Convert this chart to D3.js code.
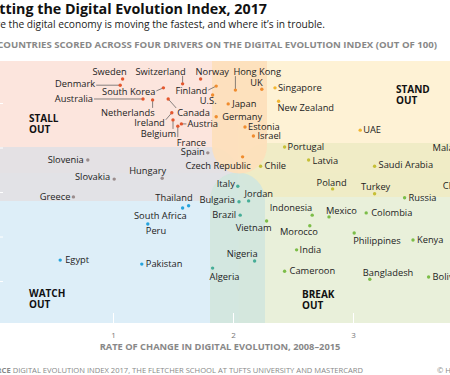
<!DOCTYPE html>
<html>
<head>
<meta charset="utf-8">
<script src="https://cdn.jsdelivr.net/npm/d3@7"></script>
<style>
  body { margin: 0; background: #fff; overflow: hidden; }
  text { font-family: "Open Sans", "Noto Sans", sans-serif; }
</style>
</head>
<body>
<div id="chart-area"></div>
<script>
// Each zone: [country, rate of change 2008-2015, DEI score]
var stallOut = [
  ["Sweden", 1.08, 65.4], ["Switzerland", 1.58, 64.3], ["Norway", 1.73, 65.4],
  ["Denmark", 1.06, 64.0], ["South Korea", 1.42, 63.4], ["Australia", 1.25, 60.9],
  ["Netherlands", 1.33, 60.7], ["Canada", 1.46, 60.9], ["Ireland", 1.49, 57.8],
  ["Belgium", 1.50, 56.2], ["Austria", 1.57, 55.3], ["France", 1.54, 54.8]
];
var stallStand = [
  ["Finland", 1.86, 63.8], ["U.S.", 1.83, 61.8], ["Hong Kong", 2.02, 62.9],
  ["UK", 2.24, 63.1], ["Japan", 1.96, 59.8], ["Germany", 1.86, 56.9],
  ["Estonia", 2.10, 54.6], ["Israel", 2.17, 52.6], ["Czech Republic", 2.08, 47.9]
];
var standOut = [
  ["Singapore", 2.35, 63.4], ["New Zealand", 2.38, 60.4], ["UAE", 3.06, 53.9],
  ["Malaysia", 4.01, 49.4]
];
var standBreak = [
  ["Portugal", 2.43, 50.1], ["Chile", 2.23, 45.8], ["Latvia", 2.63, 47.2],
  ["Saudi Arabia", 3.18, 45.8], ["Poland", 2.83, 40.7], ["Turkey", 3.18, 39.6],
  ["China", 3.98, 40.4]
];
var stallWatch = [
  ["Spain", 1.79, 48.8], ["Slovenia", 0.79, 47.2], ["Slovakia", 1.01, 42.9],
  ["Hungary", 1.41, 43.1], ["Greece", 0.67, 38.9]
];
var watchBreak = [
  ["Italy", 2.04, 41.3], ["Jordan", 2.13, 38.0], ["Bulgaria", 2.05, 37.8],
  ["Brazil", 2.06, 34.8], ["Nigeria", 2.18, 24.5], ["Algeria", 1.83, 22.9]
];
var watchOut = [
  ["Thailand", 1.63, 36.9], ["South Africa", 1.58, 36.4], ["Peru", 1.29, 32.8],
  ["Egypt", 0.56, 24.7], ["Pakistan", 1.24, 23.8]
];
var breakOut = [
  ["Russia", 3.43, 38.7], ["Indonesia", 2.66, 34.8], ["Mexico", 2.80, 34.4],
  ["Colombia", 3.11, 35.3], ["Vietnam", 2.28, 33.5], ["Morocco", 2.64, 32.4],
  ["Philippines", 3.01, 30.8], ["Kenya", 3.50, 29.2], ["India", 2.53, 27.0],
  ["Cameroon", 2.43, 22.2], ["Bangladesh", 3.14, 20.4], ["Bolivia", 3.63, 20.9]
];
var xTicks = [0, 1, 2, 3];
var yTicks = [20, 30, 40, 50, 60];

var groups = [
  {data: stallOut, dot: "#e4572e"},
  {data: stallStand, dot: "#f08c2e"},
  {data: standOut, dot: "#f2b630"},
  {data: standBreak, dot: "#c6bf36"},
  {data: stallWatch, dot: "#9a8c8c"},
  {data: watchBreak, dot: "#46ad97"},
  {data: watchOut, dot: "#25a3dc"},
  {data: breakOut, dot: "#7cbd48"}
];

// label placement: anchor, dx, dy from the dot
var labelPos = {
  "Sweden": ["end", 4, -7], "Switzerland": ["middle", -22, -12], "Norway": ["start", -5, -7],
  "Denmark": ["end", -25, -1], "South Korea": ["end", -8, 4], "Australia": ["end", -50, 0],
  "Netherlands": ["end", 2, 13], "Canada": ["start", 9, 14], "Ireland": ["end", -7, 10],
  "Belgium": ["end", 3, 14], "Austria": ["start", 6, 0], "France": ["start", -1, 17],
  "Finland": ["end", -9, 5], "U.S.": ["end", 4, 6], "Hong Kong": ["start", -2, -18],
  "UK": ["end", 1, -6], "Japan": ["start", 4, 0], "Germany": ["start", 6, 0],
  "Estonia": ["start", 3, 0], "Israel": ["start", 4, 0], "Czech Republic": ["end", 8, 9],
  "Singapore": ["start", 3, 0], "New Zealand": ["start", -1, 7], "UAE": ["start", 3, 0],
  "Malaysia": ["end", -4, -2],
  "Portugal": ["start", 3, 0], "Chile": ["start", 4, 0], "Latvia": ["start", 4, 1],
  "Saudi Arabia": ["start", 4, -1], "Poland": ["middle", -1, -6], "Turkey": ["middle", 1, -7],
  "China": ["end", -3, -4],
  "Spain": ["end", -3, -1], "Slovenia": ["end", -4, 0], "Slovakia": ["end", -4, -2],
  "Hungary": ["end", 4, -7], "Greece": ["end", -3, 0],
  "Italy": ["end", -3, -2], "Jordan": ["start", -4, -7], "Bulgaria": ["end", -4, -2],
  "Brazil": ["end", -4, 0], "Nigeria": ["end", 3, -7], "Algeria": ["start", -3, 9],
  "Thailand": ["end", 4, -8], "South Africa": ["end", 4, 8], "Peru": ["start", -2, 7],
  "Egypt": ["start", 5, 0], "Pakistan": ["start", 4, 0],
  "Russia": ["start", 4, 0], "Indonesia": ["end", 0, -7], "Mexico": ["start", -3, -6],
  "Colombia": ["start", 5, 0], "Vietnam": ["end", 5, 7], "Morocco": ["end", 8, 6],
  "Philippines": ["start", -1, 8], "Kenya": ["start", 4, 0], "India": ["start", 3, 0],
  "Cameroon": ["start", 5, 0], "Bangladesh": ["start", -7, -6], "Bolivia": ["start", 4, 0]
};
// leader line end, relative to the dot
var leaders = {
  "Denmark": [-24, 0], "Australia": [-49, 0], "South Korea": [-7, 3], "Finland": [-8, 4],
  "Netherlands": [0, 8], "Canada": [8, 9], "Ireland": [-6, 7], "Belgium": [0, 9],
  "France": [0, 11], "Austria": [5, 0], "Switzerland": [0, -8], "Hong Kong": [0, -14]
};

var W = 450, H = 375;
var top_ = 61, bottom = 323;

var svg = d3.select("#chart-area")
  .append("svg")
    .attr("width", W)
    .attr("height", H);

// Scales
var x = d3.scaleLinear()
  .domain([0, 3])
  .range([-7, 353]);

var y = d3.scaleLinear()
  .domain([20, 60])
  .range([281, 103]);

// Background zones
var cx = 238.5, cy = 173;
var bg = svg.append("g");
bg.append("rect").attr("x", -20).attr("y", top_).attr("width", cx + 20).attr("height", cy - top_).attr("fill", "#fce5dd");
bg.append("rect").attr("x", cx).attr("y", top_).attr("width", 480 - cx).attr("height", cy - top_).attr("fill", "#fef2d5");
bg.append("rect").attr("x", -20).attr("y", cy).attr("width", cx + 20).attr("height", bottom - cy).attr("fill", "#ddeef8");
bg.append("rect").attr("x", cx).attr("y", cy).attr("width", 480 - cx).attr("height", bottom - cy).attr("fill", "#e9f0da");

function pill(x0, y0, x1, y1, capSide) {
  // rectangle with a round cap on one side
  var p = d3.path();
  if (capSide == "bottom") {
    var r = (x1 - x0) / 2;
    p.moveTo(x0, y0); p.lineTo(x1, y0); p.lineTo(x1, y1);
    p.arc(x0 + r, y1, r, 0, Math.PI, false);
    p.closePath();
  } else if (capSide == "top") {
    var r = (x1 - x0) / 2;
    p.moveTo(x0, y1); p.lineTo(x0, y0);
    p.arc(x0 + r, y0, r, Math.PI, 2 * Math.PI, false);
    p.lineTo(x1, y1); p.closePath();
  } else if (capSide == "right") {
    var r = (y1 - y0) / 2;
    p.moveTo(x0, y0); p.lineTo(x1, y0);
    p.arc(x1, y0 + r, r, -Math.PI / 2, Math.PI / 2, false);
    p.lineTo(x0, y1); p.closePath();
  } else {
    var r = (y1 - y0) / 2;
    p.moveTo(x1, y0); p.lineTo(x0, y0);
    p.arc(x0, y0 + r, r, -Math.PI / 2, Math.PI / 2, true);
    p.lineTo(x1, y1); p.closePath();
  }
  return p.toString();
}

bg.append("path").attr("d", pill(-20, 147, 211, 201, "right")).attr("fill", "#e2e1e4").attr("opacity", 0.92);
bg.append("path").attr("d", pill(267, 143, 480, 197, "left")).attr("fill", "#efecc4").attr("opacity", 0.92);
bg.append("path").attr("d", pill(210, 200, 265, bottom, "top")).attr("fill", "#d1e6dd").attr("opacity", 0.92);
bg.append("path").attr("d", pill(212, top_, 267, 146, "bottom")).attr("fill", "#fde0bb").attr("opacity", 0.92);

// Axes
var xAxis = d3.axisBottom(x)
  .tickValues(xTicks)
  .tickSize(-10)
  .tickPadding(9)
  .tickFormat(d => d);
var gx = svg.append("g")
  .attr("transform", "translate(0," + bottom + ")")
  .call(xAxis);
gx.select(".domain").remove();
gx.selectAll("line").attr("stroke", "#fff").attr("stroke-width", 1);
gx.selectAll("text").attr("fill", "#777").attr("font-size", "8px")
  .style("font-family", "'Open Sans', sans-serif");

var yAxis = d3.axisLeft(y)
  .tickValues(yTicks)
  .tickSize(3)
  .tickPadding(14);
var gy = svg.append("g")
  .attr("transform", "translate(3,0)")
  .call(yAxis);
gy.select(".domain").remove();
gy.selectAll("line").attr("stroke", "#fff").attr("stroke-width", 1);
gy.selectAll("text").attr("fill", "#777").attr("font-size", "8px");

// Zone names
var zones = [
  ["STALL", "OUT", 29, 118], ["STAND", "OUT", 396, 89],
  ["WATCH", "OUT", 29, 293], ["BREAK", "OUT", 302, 294]
];
zones.forEach(z => {
  var t = svg.append("text")
    .attr("font-size", "10px").attr("font-weight", "bold").attr("fill", "#111");
  t.append("tspan").attr("x", z[2]).attr("y", z[3] + 3.5).text(z[0]);
  t.append("tspan").attr("x", z[2]).attr("y", z[3] + 15).text(z[1]);
});

// Points
var marks = svg.append("g");
groups.forEach(gr => {
  gr.data.forEach(d => {
    var px = x(d[1]), py = y(d[2]);
    if (leaders[d[0]]) {
      var l = leaders[d[0]];
      marks.append("line")
        .attr("x1", px).attr("y1", py)
        .attr("x2", px + l[0]).attr("y2", py + l[1])
        .attr("stroke", "#555").attr("stroke-width", 0.7);
    }
    marks.append("circle")
      .attr("cx", px).attr("cy", py).attr("r", 1.7)
      .attr("fill", gr.dot);
    var lp = labelPos[d[0]];
    marks.append("text")
      .attr("x", px + lp[1]).attr("y", py + lp[2])
      .attr("dy", "0.35em")
      .attr("text-anchor", lp[0])
      .attr("font-size", "9.3px")
      .attr("fill", "#222")
      .text(d[0]);
  });
});

// Titles
svg.append("text")
  .attr("x", 267).attr("y", 14)
  .attr("text-anchor", "end")
  .attr("font-size", "14.3px").attr("font-weight", "bold").attr("fill", "#111")
  .text("Plotting the Digital Evolution Index, 2017");
svg.append("text")
  .attr("x", 325).attr("y", 28)
  .attr("text-anchor", "end")
  .attr("font-size", "10.2px").attr("fill", "#222")
  .text("Where the digital economy is moving the fastest, and where it\u2019s in trouble.");
svg.append("text")
  .attr("x", 437).attr("y", 48)
  .attr("text-anchor", "end")
  .attr("font-size", "9.6px").attr("font-weight", "bold").attr("fill", "#888")
  .text("60 COUNTRIES SCORED ACROSS FOUR DRIVERS ON THE DIGITAL EVOLUTION INDEX (OUT OF 100)");
svg.append("text")
  .attr("x", 220).attr("y", 350)
  .attr("text-anchor", "middle")
  .attr("font-size", "9.3px").attr("font-weight", "bold").attr("fill", "#888")
  .text("RATE OF CHANGE IN DIGITAL EVOLUTION, 2008\u20132015");

var src = svg.append("text")
  .attr("x", 363).attr("y", 373)
  .attr("text-anchor", "end")
  .attr("font-size", "7.6px").attr("fill", "#888");
src.append("tspan").attr("font-weight", "bold").text("SOURCE");
src.append("tspan").text(" DIGITAL EVOLUTION INDEX 2017, THE FLETCHER SCHOOL AT TUFTS UNIVERSITY AND MASTERCARD");
svg.append("text")
  .attr("x", 437).attr("y", 373)
  .attr("font-size", "7.6px").attr("fill", "#888")
  .text("\u00a9 HBR.ORG");
</script>
</body>
</html>
